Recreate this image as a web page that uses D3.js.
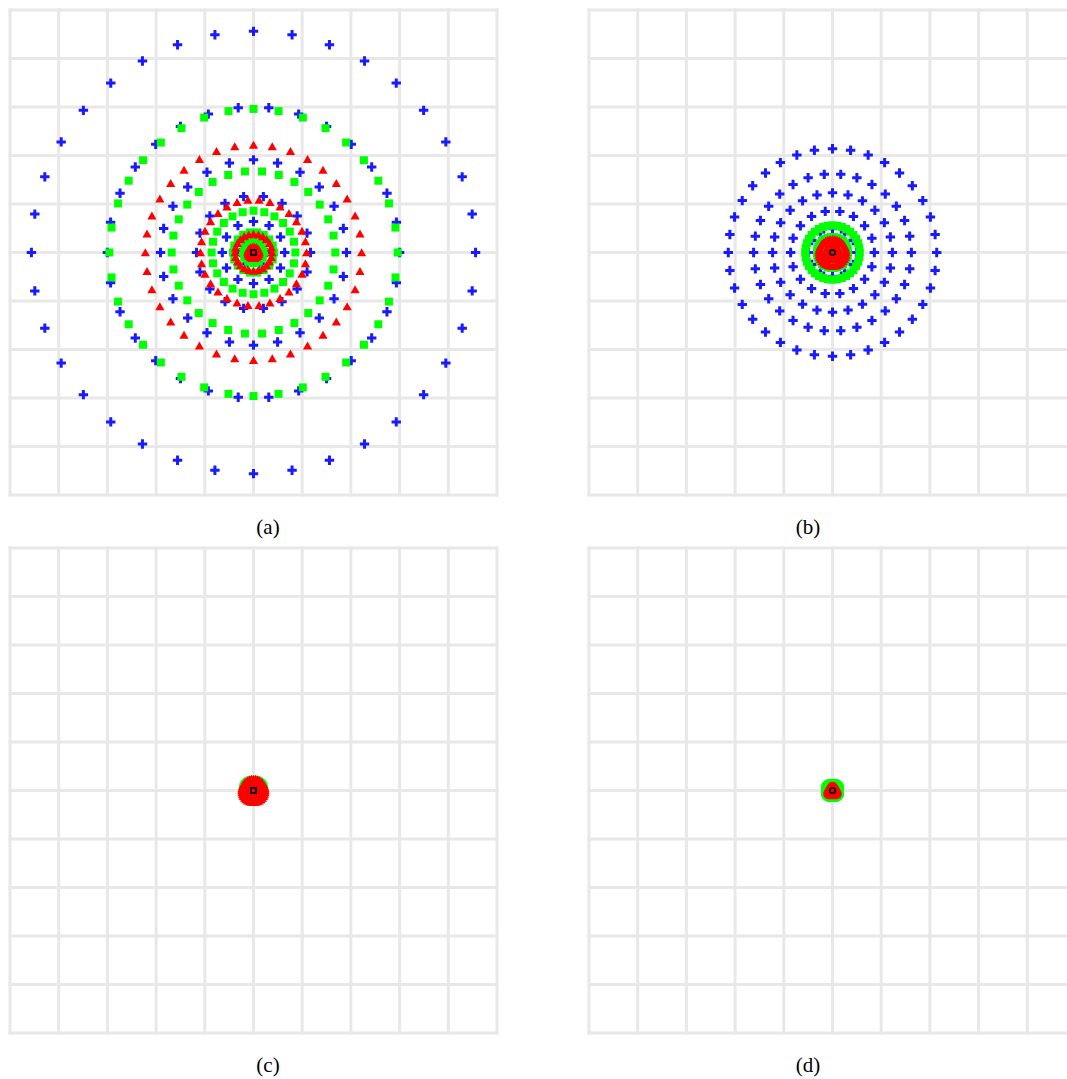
<!DOCTYPE html>
<html>
<head>
<meta charset="utf-8">
<script src="https://cdn.jsdelivr.net/npm/d3@7"></script>
<style>
  html, body { margin: 0; padding: 0; background: #ffffff; }
  svg { display: block; }
</style>
</head>
<body>
<svg id="chart" width="1067" height="1079"></svg>
<script>
// ---------------- DATA ----------------
const panelLabels = ["(a)", "(b)", "(c)", "(d)"];
const gridTicks = [-5, -4, -3, -2, -1, 0, 1, 2, 3, 4, 5];

// each series is a set of concentric rings; ring i has ringCounts[i] points,
// rotated by ringPhaseDeg[i] degrees
const ringCounts   = [36, 30, 24, 18, 12, 6];
const ringPhaseDeg = [0, 6, 0, 10, 0, 30];

// ring radii (data units)
const blueRadiiA  = [4.56, 3.00, 1.91, 1.17, 0.64, 0.27];
const greenRadiiA = [2.96, 1.68, 0.86, 0.42, 0.22, 0.09];
const redRadiiA   = [2.22, 1.09, 0.38, 0.12, 0.05, 0.02];

const blueRadiiB  = [2.14, 1.62, 1.23, 0.86, 0.49, 0.25];
const greenRadiiB = [0.56, 0.32, 0.16, 0.08, 0.04, 0.02];
const redRadiiB   = [0.28, 0.135, 0.065, 0.03, 0.015, 0.007];

const blueRadiiC  = [0.10, 0.06, 0.03, 0.015, 0.008, 0.004];
const greenRadiiC = [0.22, 0.12, 0.06, 0.03, 0.015, 0.008];
const redRadiiC   = [0.24, 0.11, 0.05, 0.025, 0.012, 0.006];

const blueRadiiD  = [0.06, 0.03, 0.015, 0.008, 0.004, 0.002];
const greenRadiiD = [0.155, 0.08, 0.04, 0.02, 0.01, 0.005];
const redRadiiD   = [0.10, 0.05, 0.025, 0.012, 0.006, 0.003];

const centerMarker = ["square", "circle", "square", "circle"];

// ---------------- LAYOUT ----------------
const panelX = [10, 589, 10, 589];
const panelY = [10, 10, 548, 548];
const panelW = 487, panelH = 485;
const labelX = [268, 808, 268, 808];
const labelY = [534, 534, 1072, 1072];

const seriesByPanel = [
  [blueRadiiA, greenRadiiA, redRadiiA],
  [blueRadiiB, greenRadiiB, redRadiiB],
  [blueRadiiC, greenRadiiC, redRadiiC],
  [blueRadiiD, greenRadiiD, redRadiiD]
];

function ringPoints(radii) {
  const pts = [];
  radii.forEach((r, i) => {
    const n = ringCounts[i];
    for (let k = 0; k < n; k++) {
      const a = (ringPhaseDeg[i] + k * 360 / n) * Math.PI / 180;
      pts.push({x: r * Math.sin(a), y: r * Math.cos(a)});
    }
  });
  return pts;
}

const svg = d3.select("#chart");
const gridColor = "#e8e8e8";

panelLabels.forEach((lab, p) => {
  const x = d3.scaleLinear().domain([-5, 5]).range([panelX[p], panelX[p] + panelW]);
  const y = d3.scaleLinear().domain([-5, 5]).range([panelY[p] + panelH, panelY[p]]);
  const g = svg.append("g");

  // grid
  g.selectAll("line.v").data(gridTicks).join("line")
    .attr("x1", d => x(d)).attr("x2", d => x(d))
    .attr("y1", y(-5) + 1.5).attr("y2", y(5) - 1.5)
    .attr("stroke", gridColor).attr("stroke-width", 3);
  g.selectAll("line.h").data(gridTicks).join("line")
    .attr("y1", d => y(d)).attr("y2", d => y(d))
    .attr("x1", x(-5) - 1.5).attr("x2", x(5) + 1.5)
    .attr("stroke", gridColor).attr("stroke-width", 3);

  const [bR, gR, rR] = seriesByPanel[p];

  // blue plus markers
  g.append("g").selectAll("path").data(ringPoints(bR)).join("path")
    .attr("transform", d => `translate(${x(d.x)},${y(d.y)})`)
    .attr("d", "M-4.7,0H4.7M0,-4.7V4.7")
    .attr("stroke", "#1a1aff").attr("stroke-width", 3).attr("fill", "none");

  // green squares
  g.append("g").selectAll("rect").data(ringPoints(gR)).join("rect")
    .attr("x", d => x(d.x) - 4).attr("y", d => y(d.y) - 4)
    .attr("width", 8).attr("height", 8)
    .attr("fill", "#00ff00");

  // red triangles
  g.append("g").selectAll("path").data(ringPoints(rR)).join("path")
    .attr("transform", d => `translate(${x(d.x)},${y(d.y)})`)
    .attr("d", "M0,-4.2L4.6,3.8L-4.6,3.8Z")
    .attr("fill", "#ff0000");

  // centre marker
  if (centerMarker[p] === "square") {
    g.append("rect")
      .attr("x", x(0) - 2.6).attr("y", y(0) - 2.6)
      .attr("width", 5.2).attr("height", 5.2)
      .attr("fill", "none").attr("stroke", "#000").attr("stroke-width", 1.8);
  } else {
    g.append("circle")
      .attr("cx", x(0)).attr("cy", y(0)).attr("r", 2.7)
      .attr("fill", "none").attr("stroke", "#000").attr("stroke-width", 1.8);
  }

  svg.append("text")
    .attr("x", labelX[p]).attr("y", labelY[p])
    .attr("text-anchor", "middle")
    .attr("font-family", "'Liberation Serif', 'DejaVu Serif', serif")
    .attr("font-size", 21)
    .attr("fill", "#000")
    .text(lab);
});
</script>
</body>
</html>
